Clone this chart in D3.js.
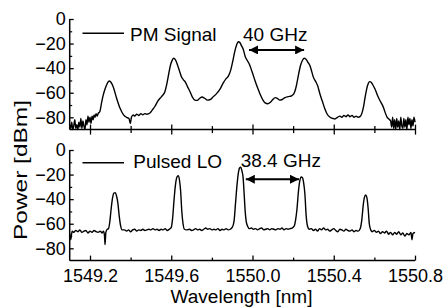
<!DOCTYPE html>
<html>
<head>
<meta charset="utf-8">
<script src="https://cdn.jsdelivr.net/npm/d3@7"></script>
<style>
  html, body { margin: 0; padding: 0; background: #fff; }
  svg { display: block; }
  text { font-family: "Liberation Sans", Arial, Helvetica, sans-serif; fill: #000; }
</style>
</head>
<body>
<svg id="chart" width="448" height="307"></svg>
<script>
// ---------------- data (wavelength nm, power dBm) ----------------
const pmSignal = [
  [1549.100,-86],[1549.105,-89],[1549.110,-84],[1549.115,-90],[1549.120,-87],[1549.125,-82],
  [1549.130,-89],[1549.135,-86],[1549.140,-90],[1549.145,-84],[1549.150,-88],[1549.155,-81],
  [1549.160,-89],[1549.165,-83],[1549.170,-87],[1549.175,-90],[1549.180,-82],[1549.185,-86],
  [1549.190,-79],[1549.195,-84],[1549.200,-80],[1549.205,-85],[1549.210,-79],[1549.215,-82],
  [1549.220,-78],[1549.225,-80],[1549.230,-77],[1549.235,-79],[1549.240,-77],[1549.249,-75],
  [1549.257,-68],[1549.265,-62],[1549.274,-57],[1549.282,-53.5],[1549.290,-51],[1549.296,-50.5],
  [1549.303,-51.5],[1549.315,-55.6],[1549.331,-64.5],[1549.348,-72.7],[1549.365,-78],[1549.380,-80],
  [1549.392,-81],[1549.398,-85],[1549.404,-80],[1549.413,-78],[1549.420,-79],[1549.430,-77.5],
  [1549.440,-78.5],[1549.450,-77],[1549.460,-78],[1549.470,-77],[1549.480,-77.5],[1549.495,-76.5],
  [1549.507,-74],[1549.520,-71],[1549.533,-67],[1549.545,-64.5],[1549.558,-62],[1549.569,-59],
  [1549.578,-53],[1549.587,-45],[1549.597,-37],[1549.605,-33.5],[1549.612,-32],[1549.620,-33],
  [1549.630,-37],[1549.640,-42],[1549.650,-47],[1549.660,-49.5],[1549.670,-51.5],[1549.680,-55],
  [1549.692,-59],[1549.704,-63.5],[1549.716,-66],[1549.728,-66.2],[1549.740,-64.5],[1549.752,-63.5],
  [1549.764,-64.5],[1549.778,-66],[1549.792,-65.5],[1549.805,-63.5],[1549.824,-60.5],[1549.840,-57],
  [1549.856,-52],[1549.870,-48.5],[1549.881,-46.5],[1549.892,-42],[1549.902,-35],[1549.912,-27],
  [1549.922,-21],[1549.930,-18.5],[1549.937,-19],[1549.945,-21.5],[1549.955,-25],[1549.965,-31],
  [1549.975,-34],[1549.985,-37],[1549.998,-43],[1550.012,-50],[1550.025,-56],[1550.037,-61],
  [1550.050,-65.5],[1550.062,-68.3],[1550.075,-69],[1550.088,-67.8],[1550.100,-65.5],[1550.112,-64],
  [1550.122,-64.5],[1550.134,-66],[1550.146,-65.5],[1550.160,-64],[1550.176,-63.2],[1550.192,-62.5],
  [1550.203,-61],[1550.212,-57],[1550.220,-51],[1550.228,-44],[1550.236,-38],[1550.245,-34],
  [1550.254,-32],[1550.262,-32.5],[1550.272,-35],[1550.283,-38],[1550.292,-43],[1550.300,-47.5],
  [1550.310,-50.5],[1550.320,-54],[1550.332,-61],[1550.344,-67],[1550.356,-73],[1550.368,-77.5],
  [1550.382,-80],[1550.396,-81],[1550.406,-81.4],[1550.418,-80],[1550.431,-79],[1550.440,-80],
  [1550.450,-78.5],[1550.460,-79.5],[1550.470,-78],[1550.480,-79.5],[1550.490,-78.5],[1550.500,-80],
  [1550.510,-79],[1550.520,-80],[1550.529,-79.5],[1550.538,-77],[1550.546,-72],[1550.554,-64],
  [1550.562,-57],[1550.570,-52.5],[1550.577,-51],[1550.584,-51.5],[1550.592,-53.5],[1550.603,-57],
  [1550.615,-62],[1550.628,-66.5],[1550.638,-69.5],[1550.647,-73],[1550.655,-77],[1550.663,-80],
  [1550.672,-81.5],[1550.680,-83],[1550.685,-88],[1550.690,-80],[1550.695,-89],[1550.700,-82],
  [1550.705,-90],[1550.710,-81],[1550.715,-88],[1550.720,-83],[1550.725,-90],[1550.730,-80],
  [1550.735,-87],[1550.740,-89],[1550.745,-81],[1550.750,-88],[1550.755,-82],[1550.760,-90],
  [1550.765,-80],[1550.770,-86],[1550.775,-81],[1550.780,-89],[1550.785,-82],[1550.790,-87],
  [1550.795,-80],[1550.800,-84]
];

const pulsedLO = [
  [1549.100,-68],[1549.105,-73],[1549.112,-66],[1549.120,-67],[1549.130,-65.5],[1549.140,-66.5],
  [1549.150,-65],[1549.160,-67],[1549.170,-66],[1549.180,-65.5],[1549.190,-67.5],[1549.200,-66],
  [1549.210,-67],[1549.220,-65.5],[1549.230,-66.5],[1549.240,-67],[1549.250,-66],[1549.260,-67.5],
  [1549.266,-66],[1549.271,-69],[1549.274,-77],[1549.278,-67],[1549.285,-64.5],[1549.291,-64],
  [1549.297,-59],[1549.304,-48],[1549.311,-39],[1549.318,-35],[1549.324,-34.7],[1549.330,-37],
  [1549.337,-43],[1549.344,-54],[1549.351,-62],[1549.358,-65],[1549.370,-65],[1549.380,-66],
  [1549.390,-65],[1549.400,-66.5],[1549.410,-65],[1549.420,-64.5],[1549.430,-66],[1549.440,-65],
  [1549.450,-65.5],[1549.460,-64.5],[1549.470,-65.5],[1549.480,-65],[1549.490,-64.5],[1549.500,-65],
  [1549.510,-64],[1549.520,-65],[1549.530,-64.5],[1549.540,-65.5],[1549.550,-64.5],[1549.560,-65],
  [1549.570,-64],[1549.580,-65.5],[1549.590,-64.5],[1549.600,-63],[1549.607,-55],[1549.614,-40],
  [1549.621,-28],[1549.628,-22],[1549.634,-21],[1549.640,-24],[1549.646,-33],[1549.652,-50],
  [1549.658,-60],[1549.665,-64.5],[1549.675,-65],[1549.690,-64.5],[1549.700,-65.5],[1549.710,-65],
  [1549.720,-64],[1549.730,-65],[1549.740,-64.5],[1549.750,-65.5],[1549.760,-64.5],[1549.770,-63.5],
  [1549.780,-64.5],[1549.790,-64],[1549.800,-65],[1549.810,-64.5],[1549.820,-65],[1549.830,-64],
  [1549.840,-65.5],[1549.850,-64.5],[1549.860,-65],[1549.870,-64],[1549.880,-65],[1549.890,-64.5],
  [1549.900,-63],[1549.909,-58],[1549.917,-42],[1549.924,-28],[1549.931,-18],[1549.937,-14.5],
  [1549.942,-14],[1549.948,-17],[1549.954,-23],[1549.959,-36],[1549.964,-50],[1549.969,-58],
  [1549.976,-62],[1549.985,-64],[1549.995,-63.5],[1550.005,-64.5],[1550.015,-64],[1550.025,-65],
  [1550.035,-64],[1550.045,-63.5],[1550.055,-65],[1550.065,-64.5],[1550.075,-64],[1550.085,-65],
  [1550.095,-64],[1550.105,-64.5],[1550.115,-65],[1550.125,-64],[1550.135,-64.5],[1550.145,-63.5],
  [1550.155,-65],[1550.165,-64],[1550.175,-64.5],[1550.185,-64],[1550.195,-63.5],[1550.205,-62],
  [1550.212,-57],[1550.219,-48],[1550.226,-34],[1550.233,-25],[1550.240,-22],[1550.246,-22.5],
  [1550.252,-27],[1550.258,-36],[1550.264,-53],[1550.271,-62],[1550.280,-64.5],[1550.290,-64],
  [1550.300,-65.5],[1550.310,-64.5],[1550.320,-66],[1550.330,-64],[1550.340,-65],[1550.350,-63.5],
  [1550.360,-65],[1550.370,-64.5],[1550.380,-66],[1550.390,-65],[1550.400,-64],[1550.410,-65.5],
  [1550.420,-66.5],[1550.430,-64.5],[1550.440,-65],[1550.450,-66],[1550.460,-64.5],[1550.470,-65.5],
  [1550.480,-66],[1550.490,-65],[1550.500,-66.5],[1550.510,-65.5],[1550.520,-66],[1550.530,-64],
  [1550.538,-57],[1550.545,-45],[1550.551,-38.5],[1550.557,-36.6],[1550.563,-38.5],[1550.569,-47],
  [1550.575,-60],[1550.582,-65],[1550.590,-66.5],[1550.600,-65.5],[1550.610,-67],[1550.620,-66],
  [1550.630,-68],[1550.640,-66.5],[1550.650,-67.5],[1550.660,-66],[1550.670,-68.5],[1550.680,-67],
  [1550.690,-69],[1550.700,-67],[1550.710,-68.5],[1550.720,-66.5],[1550.730,-69],[1550.740,-67.5],
  [1550.750,-70],[1550.760,-68],[1550.770,-69],[1550.780,-67],[1550.785,-73],[1550.790,-68],
  [1550.800,-67]
];

const wavelengthTicks = [1549.2, 1549.4, 1549.6, 1549.8, 1550.0, 1550.2, 1550.4, 1550.6, 1550.8];
const wavelengthLabels = [1549.2, 1549.6, 1550.0, 1550.4, 1550.8];
const powerTicks = [0, -20, -40, -60, -80];
const powerMinorTicks = [-10, -30, -50, -70];
const seriesNames = ["PM Signal", "Pulsed LO"];
const spacingLabels = ["40 GHz", "38.4 GHz"];
// arrow spans (nm) and heights (dBm) for the spacing annotations
const spacingSpans = [[1549.983, 1550.254], [1549.967, 1550.229]];
const spacingLevels = [-25.2, -23.8];

// ---------------- layout ----------------
const svg = d3.select("#chart");
const FONT = '"Liberation Sans", Arial, Helvetica, sans-serif';

const x = d3.scaleLinear().domain([1549.1, 1550.8]).range([69.7, 415]);
const yTop = d3.scaleLinear().domain([-90, 0]).range([129.6, 19]);
const yBot = d3.scaleLinear().domain([-90, 0]).range([260.6, 150]);

// arrow marker
const defs = svg.append("defs");
defs.append("marker")
  .attr("id", "ah")
  .attr("viewBox", "0 0 10 10")
  .attr("refX", 10).attr("refY", 5)
  .attr("markerUnits", "userSpaceOnUse")
  .attr("markerWidth", 9).attr("markerHeight", 9)
  .attr("orient", "auto-start-reverse")
  .append("path").attr("d", "M0,0 L10,5 L0,10 Z").attr("fill", "#000");

function panel(y, data, name, span, level, showX, legendY, legendTextY, legendTextX) {
  const g = svg.append("g");
  const y0 = y.range()[0];

  // y axis major
  const ya = g.append("g").attr("transform", `translate(${x.range()[0]},0)`)
    .call(d3.axisLeft(y).tickValues(powerTicks).tickSize(-4).tickPadding(4));
  ya.select(".domain").attr("d", `M0,${y0}V${y.range()[1]}`).attr("stroke-width", 1.5);
  ya.selectAll(".tick line").attr("stroke-width", 1.3);
  ya.selectAll("text").style("font-size", "18px").style("font-family", FONT);
  // y minor
  const ym = g.append("g").attr("transform", `translate(${x.range()[0]},0)`)
    .call(d3.axisLeft(y).tickValues(powerMinorTicks).tickSize(-2.5).tickFormat(""));
  ym.select(".domain").remove();
  ym.selectAll(".tick line").attr("stroke-width", 1.2);

  // x axis
  const xa = g.append("g").attr("transform", `translate(0,${y0})`)
    .call(d3.axisBottom(x).tickValues(wavelengthTicks)
      .tickSize(-4).tickPadding(9)
      .tickFormat(d => (showX && wavelengthLabels.includes(d)) ? d3.format(".1f")(d) : ""));
  xa.select(".domain").attr("d", `M${x.range()[0]},0H${x.range()[1]}`).attr("stroke-width", 1.5);
  xa.selectAll(".tick line").attr("stroke-width", 1.3)
    .each(function(d) {
      const major = wavelengthLabels.includes(d);
      if (showX) {
        d3.select(this).attr("y1", 0).attr("y2", major ? -5 : -3);
      } else {
        d3.select(this).attr("y1", major ? -5 : -3.5).attr("y2", major ? 5 : 3.5);
      }
    });
  xa.selectAll("text").style("font-size", "18px").style("font-family", FONT);

  // curve
  const line = d3.line().x(d => x(d[0])).y(d => y(d[1])).curve(d3.curveMonotoneX);
  g.append("path").datum(data).attr("d", line)
    .attr("fill", "none").attr("stroke", "#000").attr("stroke-width", 1.4)
    .attr("stroke-linejoin", "round");

  // legend
  g.append("line").attr("x1", 82.5).attr("x2", 124).attr("y1", legendY).attr("y2", legendY)
    .attr("stroke", "#000").attr("stroke-width", 1.5);
  g.append("text").attr("x", legendTextX).attr("y", legendTextY)
    .style("font-size", "19px").text(name);

  // spacing annotation arrow
  g.append("line")
    .attr("x1", x(span[0])).attr("x2", x(span[1]))
    .attr("y1", y(level)).attr("y2", y(level))
    .attr("stroke", "#000").attr("stroke-width", 2)
    .attr("marker-start", "url(#ah)").attr("marker-end", "url(#ah)");
  return g;
}

panel(yTop, pmSignal, seriesNames[0], spacingSpans[0], spacingLevels[0], false, 33.3, 40.7, 130);
panel(yBot, pulsedLO, seriesNames[1], spacingSpans[1], spacingLevels[1], true, 162.7, 168.3, 133.3);

// annotation labels
svg.append("text").attr("x", 243).attr("y", 41).style("font-size", "19px").text(spacingLabels[0]);
svg.append("text").attr("x", 240.7).attr("y", 167.3).style("font-size", "19px").text(spacingLabels[1]);

// axis titles
svg.append("text").attr("x", 241.5).attr("y", 302.5).attr("text-anchor", "middle")
  .attr("textLength", 142).attr("lengthAdjust", "spacingAndGlyphs")
  .style("font-size", "18px").text("Wavelength [nm]");
svg.append("text").attr("transform", "translate(26.5,170) rotate(-90)").attr("text-anchor", "middle")
  .attr("textLength", 140).attr("lengthAdjust", "spacingAndGlyphs")
  .style("font-size", "19px").text("Power [dBm]");
</script>
</body>
</html>
